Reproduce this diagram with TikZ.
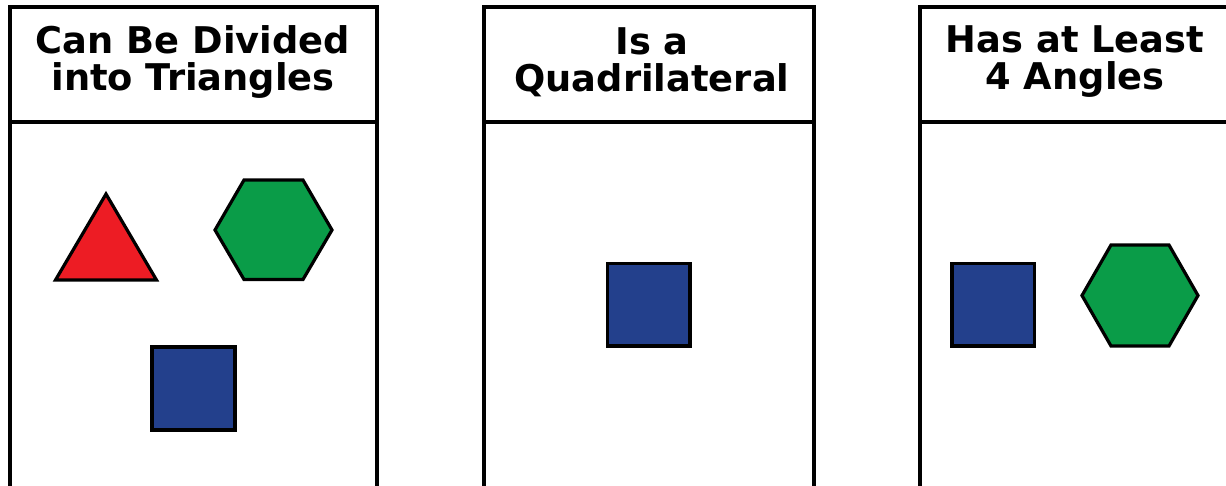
\documentclass[tikz,border=0pt]{standalone}
\usepackage{fontspec}
\setmainfont{DejaVu Sans}
\definecolor{shred}{RGB}{237,28,36}
\definecolor{shgreen}{RGB}{10,156,72}
\definecolor{shblue}{RGB}{35,64,140}
\begin{document}
\begin{tikzpicture}[x=1pt,y=-1pt,
  panel/.style={draw=black,line width=3.2pt},
  head/.style={font=\fontsize{36.8}{37}\selectfont\bfseries,align=center,inner sep=0pt},
  shp/.style={draw=black,line width=3.2pt,line join=miter}]
\useasboundingbox (0,0) rectangle (1226,485);
\clip (0,0) rectangle (1226,485);
\fill[white] (0,0) rectangle (1226,485);
% panels
\draw[panel] (10,500) -- (10,7) -- (377,7) -- (377,500);
\draw[panel] (10,122) -- (377,122);
\draw[panel] (484,500) -- (484,7) -- (814,7) -- (814,500);
\draw[panel] (484,122) -- (814,122);
\draw[panel] (920,500) -- (920,7) -- (1240,7);
\draw[panel] (920,122) -- (1240,122);
% headers
\node[head] (h1) at (193,62) {Can Be Divided\\into Triangles};
\node[head] (h2) at (652,62) {Is a\\Quadrilateral};
\node[head] (h3) at (1075,62) {Has at Least\\4 Angles};
% panel 1 shapes
\draw[shp,fill=shred] (106,194) -- (156.5,280) -- (55.5,280) -- cycle;
\draw[shp,fill=shgreen] (215,230) -- (244,180) -- (303,180) -- (332,230) -- (303,279.5) -- (244,279.5) -- cycle;
\draw[shp,fill=shblue] (152,347) rectangle (235,430);
% panel 2
\draw[shp,fill=shblue] (607.5,263.5) rectangle (690,346);
% panel 3
\draw[shp,fill=shblue] (952,263.5) rectangle (1034.5,346);
\draw[shp,fill=shgreen] (1082,295.5) -- (1111,245) -- (1169,245) -- (1198,295.5) -- (1169,346) -- (1111,346) -- cycle;
\end{tikzpicture}
\end{document}
